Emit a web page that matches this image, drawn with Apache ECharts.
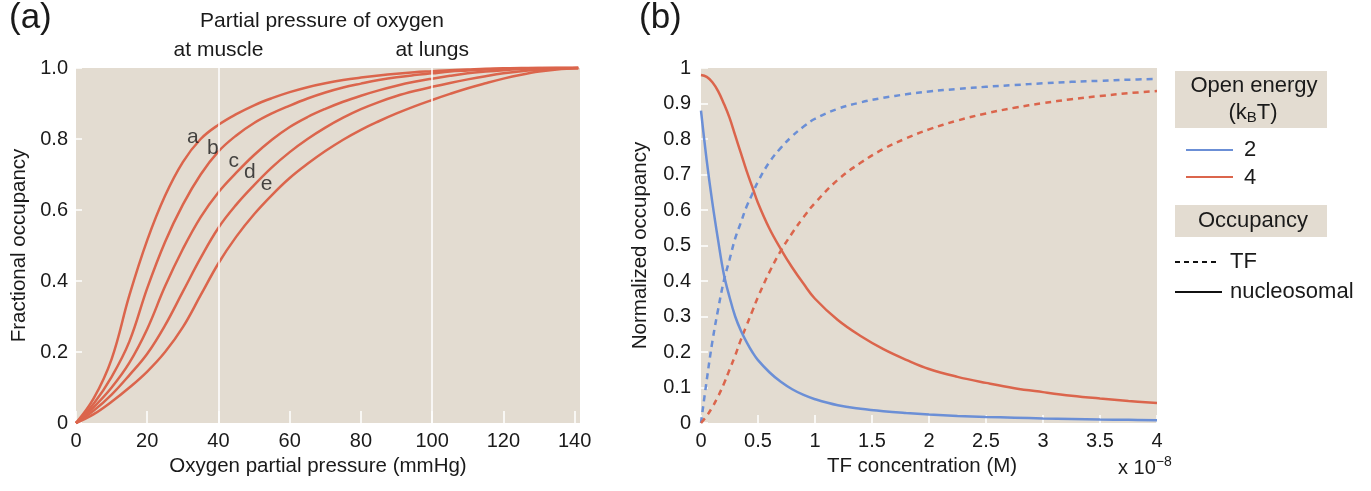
<!DOCTYPE html>
<html>
<head>
<meta charset="utf-8">
<script src="https://cdn.jsdelivr.net/npm/echarts@6.0.0/dist/echarts.min.js"></script>
<style>
  html, body { margin: 0; padding: 0; background: #fff; }
  #chart { width: 1371px; height: 491px; }
</style>
</head>
<body>
<div id="chart"></div>
<script>
var chartDom = document.getElementById('chart')
var chart = echarts.init(chartDom)

// (a) oxygen binding curves, read every 5 mmHg
var pressure = [0, 5, 10, 15, 20, 25, 30, 35, 40, 45, 50, 55, 60, 65, 70, 75, 80, 85, 90, 95, 100, 105, 110, 115, 120, 125, 130, 135, 141]
var curveA = [0, 0.07, 0.18, 0.36, 0.515, 0.64, 0.735, 0.80, 0.84, 0.87, 0.895, 0.915, 0.932, 0.946, 0.957, 0.966, 0.973, 0.979, 0.984, 0.988, 0.991, 0.994, 0.996, 0.998, 0.999, 1.0, 1.0, 1.0, 1.0]
var curveB = [0, 0.055, 0.13, 0.23, 0.38, 0.51, 0.615, 0.70, 0.765, 0.81, 0.845, 0.872, 0.894, 0.914, 0.931, 0.945, 0.956, 0.966, 0.974, 0.98, 0.985, 0.99, 0.993, 0.996, 0.998, 0.999, 1.0, 1.0, 1.0]
var curveC = [0, 0.045, 0.10, 0.17, 0.265, 0.385, 0.49, 0.58, 0.65, 0.705, 0.755, 0.798, 0.834, 0.862, 0.885, 0.905, 0.922, 0.937, 0.95, 0.961, 0.97, 0.978, 0.985, 0.99, 0.994, 0.997, 0.999, 1.0, 1.0]
var curveD = [0, 0.035, 0.08, 0.135, 0.195, 0.275, 0.37, 0.465, 0.55, 0.615, 0.67, 0.72, 0.763, 0.8, 0.832, 0.86, 0.884, 0.904, 0.921, 0.935, 0.947, 0.958, 0.968, 0.977, 0.985, 0.991, 0.995, 0.998, 1.0]
var curveE = [0, 0.025, 0.06, 0.10, 0.145, 0.20, 0.27, 0.36, 0.45, 0.525, 0.588, 0.642, 0.69, 0.73, 0.766, 0.798, 0.826, 0.85, 0.872, 0.892, 0.91, 0.927, 0.943, 0.957, 0.97, 0.981, 0.99, 0.996, 1.0]
var curveNames = ['a', 'b', 'c', 'd', 'e']
var curveLabelPos = [[32.8, 0.806], [38.4, 0.775], [44.3, 0.738], [48.8, 0.707], [53.5, 0.673]]
var markerLines = [40, 100]
var markerNames = ['at muscle', 'at lungs']

// (b) occupancy vs TF concentration (in units of 1e-8 M)
var tfConc = [0, 0.05, 0.1, 0.15, 0.2, 0.25, 0.3, 0.35, 0.4, 0.45, 0.5, 0.6, 0.7, 0.8, 0.9, 1.0, 1.2, 1.4, 1.6, 1.8, 2.0, 2.25, 2.5, 2.75, 3.0, 3.25, 3.5, 3.75, 4.0]
var nucl2 = [0.88, 0.74, 0.62, 0.515, 0.42, 0.355, 0.30, 0.26, 0.228, 0.20, 0.177, 0.143, 0.116, 0.095, 0.079, 0.067, 0.05, 0.04, 0.033, 0.028, 0.024, 0.02, 0.017, 0.015, 0.013, 0.0115, 0.010, 0.009, 0.008]
var nucl4 = [0.98, 0.975, 0.96, 0.935, 0.90, 0.86, 0.81, 0.76, 0.71, 0.665, 0.62, 0.548, 0.49, 0.438, 0.392, 0.35, 0.29, 0.245, 0.208, 0.178, 0.152, 0.13, 0.113, 0.098, 0.087, 0.077, 0.069, 0.062, 0.056]
var tf2 = [0, 0.12, 0.23, 0.32, 0.40, 0.46, 0.52, 0.565, 0.61, 0.645, 0.68, 0.735, 0.775, 0.808, 0.835, 0.857, 0.885, 0.903, 0.916, 0.926, 0.934, 0.941, 0.947, 0.952, 0.957, 0.961, 0.964, 0.967, 0.969]
var tf4 = [0, 0.02, 0.045, 0.075, 0.11, 0.15, 0.19, 0.235, 0.275, 0.315, 0.355, 0.425, 0.485, 0.535, 0.58, 0.62, 0.685, 0.733, 0.772, 0.802, 0.827, 0.852, 0.872, 0.888, 0.901, 0.912, 0.921, 0.929, 0.935]
var energies = ['2', '4']

var RED = '#db654c'
var BLUE = '#6b8fd6'
var BG = '#e3dcd1'
var TXT = '#1a1a1a'
var FONT = 'Liberation Sans'

function pairs(xs, ys) {
  return xs.map(function (x, i) { return [x, ys[i]] })
}

function tickStyle(len) {
  return { show: true, inside: true, length: len, lineStyle: { color: '#fff', width: 1.5 } }
}

var tickFont = { color: TXT, fontSize: 20, fontFamily: FONT }
var nameFont = { color: TXT, fontSize: 20.5, fontFamily: FONT }

var series = []
var curves = [curveA, curveB, curveC, curveD, curveE]
curves.forEach(function (c, i) {
  series.push({
    name: curveNames[i],
    type: 'line',
    xAxisIndex: 0,
    yAxisIndex: 0,
    data: pairs(pressure, c),
    smooth: 0.4,
    showSymbol: false,
    clip: false,
    z: 3,
    lineStyle: { color: RED, width: 2.5 }
  })
})

series.push({
  name: 'markers',
  type: 'line',
  xAxisIndex: 0,
  yAxisIndex: 0,
  data: [],
  z: 1,
  markLine: {
    silent: true,
    symbol: 'none',
    lineStyle: { color: '#fff', width: 1.5, type: 'solid' },
    label: {
      show: true,
      position: 'end',
      distance: 7,
      formatter: function (p) { return markerNames[markerLines.indexOf(p.value)] },
      color: TXT,
      fontSize: 21,
      fontFamily: FONT
    },
    data: markerLines.map(function (v) { return { xAxis: v } })
  }
})

series.push({
  name: 'curve labels',
  type: 'scatter',
  xAxisIndex: 0,
  yAxisIndex: 0,
  symbolSize: 0,
  z: 4,
  data: curveLabelPos.map(function (p, i) { return { value: p, name: curveNames[i] } }),
  label: {
    show: true,
    position: 'inside',
    formatter: '{b}',
    color: TXT,
    fontSize: 21,
    fontFamily: FONT
  }
})

var rightSeries = [
  { data: tf2, color: BLUE, dash: true },
  { data: tf4, color: RED, dash: true },
  { data: nucl4, color: RED, dash: false },
  { data: nucl2, color: BLUE, dash: false }
]
rightSeries.forEach(function (s) {
  series.push({
    type: 'line',
    xAxisIndex: 1,
    yAxisIndex: 1,
    data: pairs(tfConc, s.data),
    smooth: 0.4,
    showSymbol: false,
    lineStyle: { color: s.color, width: 2.5, type: s.dash ? [6, 5] : 'solid' }
  })
})

// hand-drawn legend and panel letters
var legendX = 1175
var graphic = [
  { type: 'text', left: 9, top: 1, style: { text: '(a)', fontSize: 35, fontFamily: FONT, fill: TXT } },
  { type: 'text', left: 639, top: 1, style: { text: '(b)', fontSize: 35, fontFamily: FONT, fill: TXT } },
  { type: 'text', x: 322, y: 21, style: { text: 'Partial pressure of oxygen', fontSize: 21, fontFamily: FONT, fill: TXT, align: 'center', verticalAlign: 'middle' } },
  { type: 'rect', shape: { x: legendX, y: 71, width: 152, height: 57 }, style: { fill: BG } },
  { type: 'text', x: 1254, y: 86, style: { text: 'Open energy', fontSize: 22, fontFamily: FONT, fill: TXT, align: 'center', verticalAlign: 'middle' } },
  {
    type: 'text', x: 1253, y: 113,
    style: {
      text: '(k{sub|B}T)', fontSize: 22, fontFamily: FONT, fill: TXT, align: 'center', verticalAlign: 'middle',
      rich: { sub: { fontSize: 15, fontFamily: FONT, fill: TXT, padding: [9, 0, 0, 0] } }
    }
  },
  { type: 'line', shape: { x1: 1186, y1: 150, x2: 1233, y2: 150 }, style: { stroke: BLUE, lineWidth: 2 } },
  { type: 'text', x: 1244, y: 150, style: { text: energies[0], fontSize: 22, fontFamily: FONT, fill: TXT, verticalAlign: 'middle' } },
  { type: 'line', shape: { x1: 1186, y1: 177, x2: 1233, y2: 177 }, style: { stroke: RED, lineWidth: 2 } },
  { type: 'text', x: 1244, y: 178, style: { text: energies[1], fontSize: 22, fontFamily: FONT, fill: TXT, verticalAlign: 'middle' } },
  { type: 'rect', shape: { x: legendX, y: 205, width: 152, height: 32 }, style: { fill: BG } },
  { type: 'text', x: 1253, y: 221, style: { text: 'Occupancy', fontSize: 22, fontFamily: FONT, fill: TXT, align: 'center', verticalAlign: 'middle' } },
  { type: 'line', shape: { x1: legendX, y1: 262, x2: 1220, y2: 262 }, style: { stroke: '#111', lineWidth: 2, lineDash: [5, 4] } },
  { type: 'text', x: 1230, y: 262, style: { text: 'TF', fontSize: 22, fontFamily: FONT, fill: TXT, verticalAlign: 'middle' } },
  { type: 'line', shape: { x1: legendX, y1: 292, x2: 1222, y2: 292 }, style: { stroke: '#111', lineWidth: 2 } },
  { type: 'text', x: 1230, y: 292, style: { text: 'nucleosomal', fontSize: 22, fontFamily: FONT, fill: TXT, verticalAlign: 'middle' } },
  {
    type: 'text', x: 1118, y: 468,
    style: {
      text: 'x 10{sup|−8}', fontSize: 20, fontFamily: FONT, fill: TXT, verticalAlign: 'middle',
      rich: { sup: { fontSize: 14, fontFamily: FONT, fill: TXT, padding: [0, 0, 12, 0] } }
    }
  }
]

var option = {
  backgroundColor: '#fff',
  animation: false,
  textStyle: { fontFamily: FONT },
  grid: [
    { left: 76, top: 68, width: 504, height: 355, show: true, backgroundColor: BG, borderWidth: 0 },
    { left: 701, top: 68, width: 456, height: 355, show: true, backgroundColor: BG, borderWidth: 0 }
  ],
  xAxis: [
    {
      gridIndex: 0, type: 'value', min: 0, max: 141.5, interval: 20,
      name: 'Oxygen partial pressure (mmHg)', nameLocation: 'middle', nameGap: 32,
      nameTextStyle: Object.assign({ padding: [0, 20, 0, 0] }, nameFont),
      axisLine: { show: false }, axisTick: tickStyle(12),
      axisLabel: Object.assign({ margin: 8, showMaxLabel: false }, tickFont),
      splitLine: { show: false }
    },
    {
      gridIndex: 1, type: 'value', min: 0, max: 4, interval: 0.5,
      name: 'TF concentration (M)', nameLocation: 'middle', nameGap: 32,
      nameTextStyle: Object.assign({ padding: [0, 14, 0, 0] }, nameFont),
      axisLine: { show: false }, axisTick: tickStyle(8),
      axisLabel: Object.assign({ margin: 8 }, tickFont),
      splitLine: { show: false }
    },
    {
      gridIndex: 1, type: 'value', position: 'top', min: 0, max: 4, interval: 0.5,
      axisLine: { show: false }, axisTick: tickStyle(8),
      axisLabel: { show: false }, splitLine: { show: false }
    }
  ],
  yAxis: [
    {
      gridIndex: 0, type: 'value', min: 0, max: 1, interval: 0.2,
      name: 'Fractional occupancy', nameLocation: 'middle', nameGap: 46,
      nameTextStyle: nameFont,
      axisLine: { show: false }, axisTick: tickStyle(6),
      axisLabel: Object.assign({
        margin: 8,
        formatter: function (v) { return v === 0 ? '0' : v.toFixed(1) }
      }, tickFont),
      splitLine: { show: false }
    },
    {
      gridIndex: 1, type: 'value', min: 0, max: 1, interval: 0.1,
      name: 'Normalized occupancy', nameLocation: 'middle', nameGap: 50,
      nameTextStyle: nameFont,
      axisLine: { show: false }, axisTick: tickStyle(7),
      axisLabel: Object.assign({
        margin: 10,
        formatter: function (v) { return String(Math.round(v * 10) / 10) }
      }, tickFont),
      splitLine: { show: false }
    },
    {
      gridIndex: 1, type: 'value', position: 'right', min: 0, max: 1, interval: 0.1,
      axisLine: { show: false }, axisTick: tickStyle(8),
      axisLabel: { show: false }, splitLine: { show: false }
    }
  ],
  graphic: graphic,
  series: series
}

if (option && typeof option === 'object') {
  chart.setOption(option)
}
</script>
</body>
</html>
